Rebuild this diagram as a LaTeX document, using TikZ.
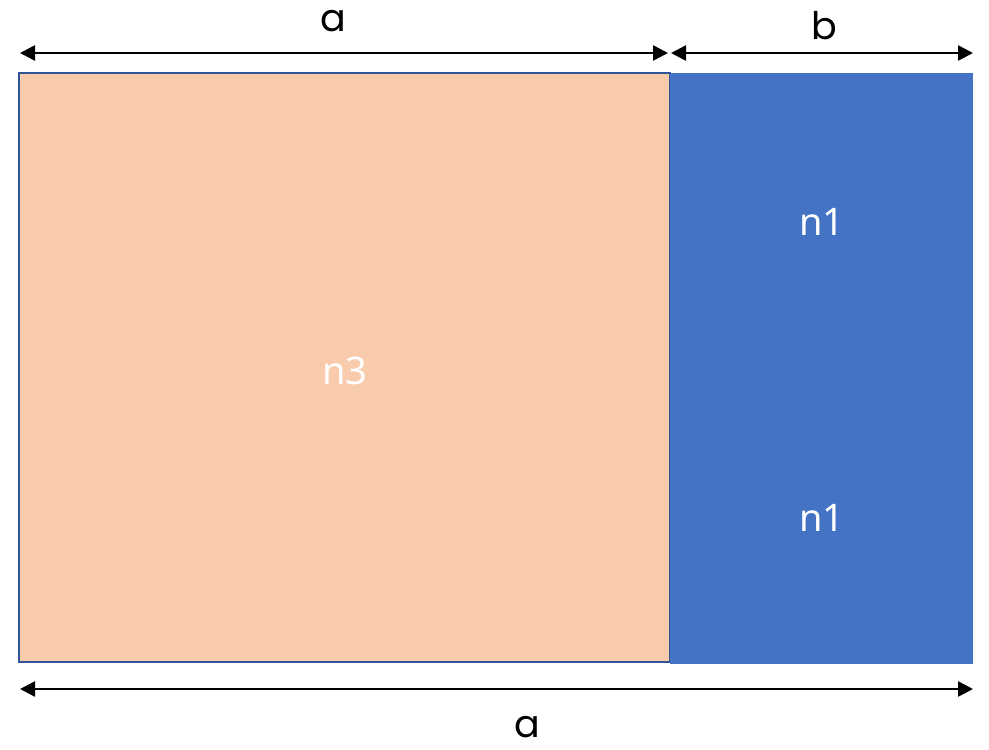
\documentclass[tikz,border=0pt]{standalone}
\usepackage{fontspec}
\setmainfont{Noto Sans}
\newfontfamily\geofont{Poppins}
\usetikzlibrary{arrows.meta}
\definecolor{peach}{HTML}{F8CBAD}
\definecolor{bluefill}{HTML}{4472C4}
\definecolor{edgeblue}{HTML}{2F5597}
\begin{document}
\begin{tikzpicture}[x=1pt,y=-1pt,
  region/.style={minimum width=#1, inner sep=0pt, outer sep=0pt, anchor=north west},
  dim/.style={line width=2.6pt, {Triangle[length=15pt,width=15pt]}-{Triangle[length=15pt,width=15pt]}},
  dimlabel/.style={font=\geofont\fontsize{38}{40}\selectfont, inner sep=0pt},
  celllabel/.style={font=\fontsize{38}{42}\selectfont, text=white, inner sep=0pt}]
\useasboundingbox (0,0) rectangle (989,750);
% regions
\node[region=651pt, minimum height=589pt, fill=peach, draw=edgeblue, line width=1.6pt] (n3box) at (19,73) {};
\node[region=303pt, minimum height=295pt, fill=bluefill] (n1top) at (670,73) {};
\node[region=303pt, minimum height=297pt, fill=bluefill] (n1bot) at (670,367) {};
% labels inside
\node[celllabel] (n3) at (345,371) {n3};
\node[celllabel] (n1a) at (822,222) {n1};
\node[celllabel] (n1b) at (822,518) {n1};
% dimension arrows
\coordinate (tl) at (20,53);
\coordinate (tm1) at (668,53);
\coordinate (tm2) at (671,53);
\coordinate (tr) at (973,53);
\coordinate (bl) at (20,689);
\coordinate (br) at (973,689);
\draw[dim] (tl) -- (tm1);
\draw[dim] (tm2) -- (tr);
\draw[dim] (bl) -- (br);
\node[dimlabel] (la) at (333,21) {a};
\node[dimlabel] (lb) at (824,26) {b};
\node[dimlabel] (lc) at (527,727) {a};
\end{tikzpicture}
\end{document}
